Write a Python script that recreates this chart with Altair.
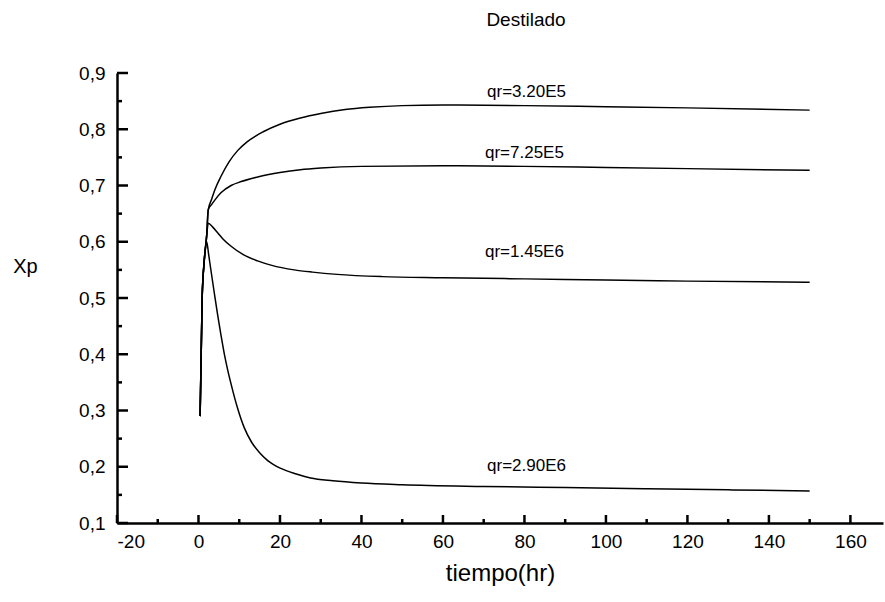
import altair as alt
import pandas as pd

# ---- data ----
t_a = [0.4, 0.9, 1.4, 2.0, 2.4, 3.2, 4, 5.5, 7.5, 9.6, 12, 16, 20, 25, 30, 36, 42, 50, 60, 80, 100, 120, 150]
y_a = [0.29, 0.50, 0.565, 0.61, 0.657, 0.675, 0.692, 0.716, 0.742, 0.762, 0.778, 0.796, 0.809, 0.820, 0.828, 0.835, 0.839, 0.842, 0.843, 0.842, 0.840, 0.838, 0.834]

t_b = [0.4, 0.9, 1.4, 2.0, 2.4, 3.2, 4, 5.5, 8, 10.5, 15, 20, 25, 30, 40, 60, 80, 100, 120, 150]
y_b = [0.29, 0.50, 0.565, 0.61, 0.657, 0.666, 0.674, 0.687, 0.700, 0.707, 0.716, 0.723, 0.728, 0.731, 0.734, 0.735, 0.734, 0.732, 0.730, 0.727]

t_c = [0.4, 0.9, 1.4, 2.0, 2.4, 3.5, 4.7, 6, 8, 11, 14.5, 18, 23.5, 28, 34, 45, 60, 80, 100, 120, 150]
y_c = [0.29, 0.50, 0.565, 0.61, 0.633, 0.626, 0.616, 0.605, 0.592, 0.577, 0.566, 0.558, 0.550, 0.546, 0.542, 0.538, 0.536, 0.534, 0.532, 0.530, 0.528]

t_d = [0.4, 0.9, 1.4, 2.0, 2.5, 3.0, 3.9, 4.7, 5.5, 6.3, 7.2, 8, 9.6, 11.2, 13, 15, 17, 20.2, 24, 27.5, 33, 40, 50, 70, 90, 110, 130, 150]
y_d = [0.29, 0.50, 0.565, 0.60, 0.577, 0.552, 0.508, 0.470, 0.435, 0.402, 0.371, 0.347, 0.304, 0.270, 0.244, 0.225, 0.211, 0.197, 0.187, 0.180, 0.175, 0.171, 0.168, 0.165, 0.163, 0.161, 0.159, 0.157]

series_names = ["qr=3.20E5", "qr=7.25E5", "qr=1.45E6", "qr=2.90E6"]
label_x = [80.5, 80.0, 80.0, 80.5]
label_y = [0.866, 0.757, 0.581, 0.202]

x_major = [-20, 0, 20, 40, 60, 80, 100, 120, 140, 160]
x_minor = [-10, 10, 30, 50, 70, 90, 110, 130, 150]
y_major = [0.1, 0.2, 0.3, 0.4, 0.5, 0.6, 0.7, 0.8, 0.9]
y_minor = [0.15, 0.25, 0.35, 0.45, 0.55, 0.65, 0.75, 0.85]

# ---- build tables ----
rows = []
for name, ts, ys in zip(series_names, [t_a, t_b, t_c, t_d], [y_a, y_b, y_c, y_d]):
    for i, (t, y) in enumerate(zip(ts, ys)):
        rows.append({"serie": name, "t": t, "xp": y, "i": i})
curves = pd.DataFrame(rows)
labels = pd.DataFrame({"serie": series_names, "t": label_x, "xp": label_y})
xt = pd.DataFrame({"t": x_major + x_minor, "kind": ["major"] * len(x_major) + ["minor"] * len(x_minor)})
yt = pd.DataFrame({"xp": y_major + y_minor, "kind": ["major"] * len(y_major) + ["minor"] * len(y_minor)})

FONT = "Liberation Sans"
xscale = alt.Scale(domain=[-20, 168], nice=False, zero=False)
yscale = alt.Scale(domain=[0.1, 0.9], nice=False, zero=False)

xaxis = alt.Axis(values=x_major, tickSize=0, grid=False, title="tiempo(hr)",
                 labelExpr="replace(datum.label, '\u2212', '-')",
                 labelFontSize=19, labelFont=FONT, labelColor="black", labelPadding=9,
                 domainColor="black", domainWidth=2.5,
                 titleFontSize=24, titleFont=FONT, titleFontWeight="normal",
                 titleColor="black", titlePadding=10)
yaxis = alt.Axis(values=y_major, tickSize=0, grid=False, title="Xp", format=".1f",
                 labelExpr="replace(datum.label, '.', ',')",
                 labelFontSize=19, labelFont=FONT, labelColor="black", labelPadding=12,
                 domainColor="black", domainWidth=2.5,
                 titleFontSize=20, titleFont=FONT, titleFontWeight="normal",
                 titleColor="black", titleAngle=0, titleAlign="center",
                 titleBaseline="middle", titleX=-92, titleY=193)

X = alt.X("t:Q", scale=xscale, axis=xaxis)
Y = alt.Y("xp:Q", scale=yscale, axis=yaxis)

lines = alt.Chart(curves).mark_line(color="black", strokeWidth=1.5, interpolate="monotone").encode(
    x=X, y=Y, detail="serie:N", order="i:Q")

texts = alt.Chart(labels).mark_text(font=FONT, fontSize=17, color="black").encode(
    x=X, y=Y, text="serie:N")

xmaj = alt.Chart(xt).transform_filter("datum.kind == 'major'").mark_rule(color="black", strokeWidth=2.5).encode(
    x=X, y=alt.value(450), y2=alt.value(442))
xmin = alt.Chart(xt).transform_filter("datum.kind == 'minor'").mark_rule(color="black", strokeWidth=2.5).encode(
    x=X, y=alt.value(450), y2=alt.value(446))
ymaj = alt.Chart(yt).transform_filter("datum.kind == 'major'").mark_rule(color="black", strokeWidth=2.5).encode(
    y=Y, x=alt.value(0), x2=alt.value(11))
ymin = alt.Chart(yt).transform_filter("datum.kind == 'minor'").mark_rule(color="black", strokeWidth=2.5).encode(
    y=Y, x=alt.value(0), x2=alt.value(5))

chart = alt.layer(lines, texts, xmaj, xmin, ymaj, ymin).properties(
    width=766, height=450,
    padding={"left": 117, "top": 73, "right": 2, "bottom": 79},
    autosize=alt.AutoSizeParams(type="none"),
    background="white",
    title=alt.TitleParams("Destilado", font=FONT, fontSize=19, fontWeight="normal",
                          color="black", anchor="middle", dx=26, offset=34),
).configure_view(stroke=None)

chart.save("out.html", embed_options={"renderer": "svg", "actions": False})
